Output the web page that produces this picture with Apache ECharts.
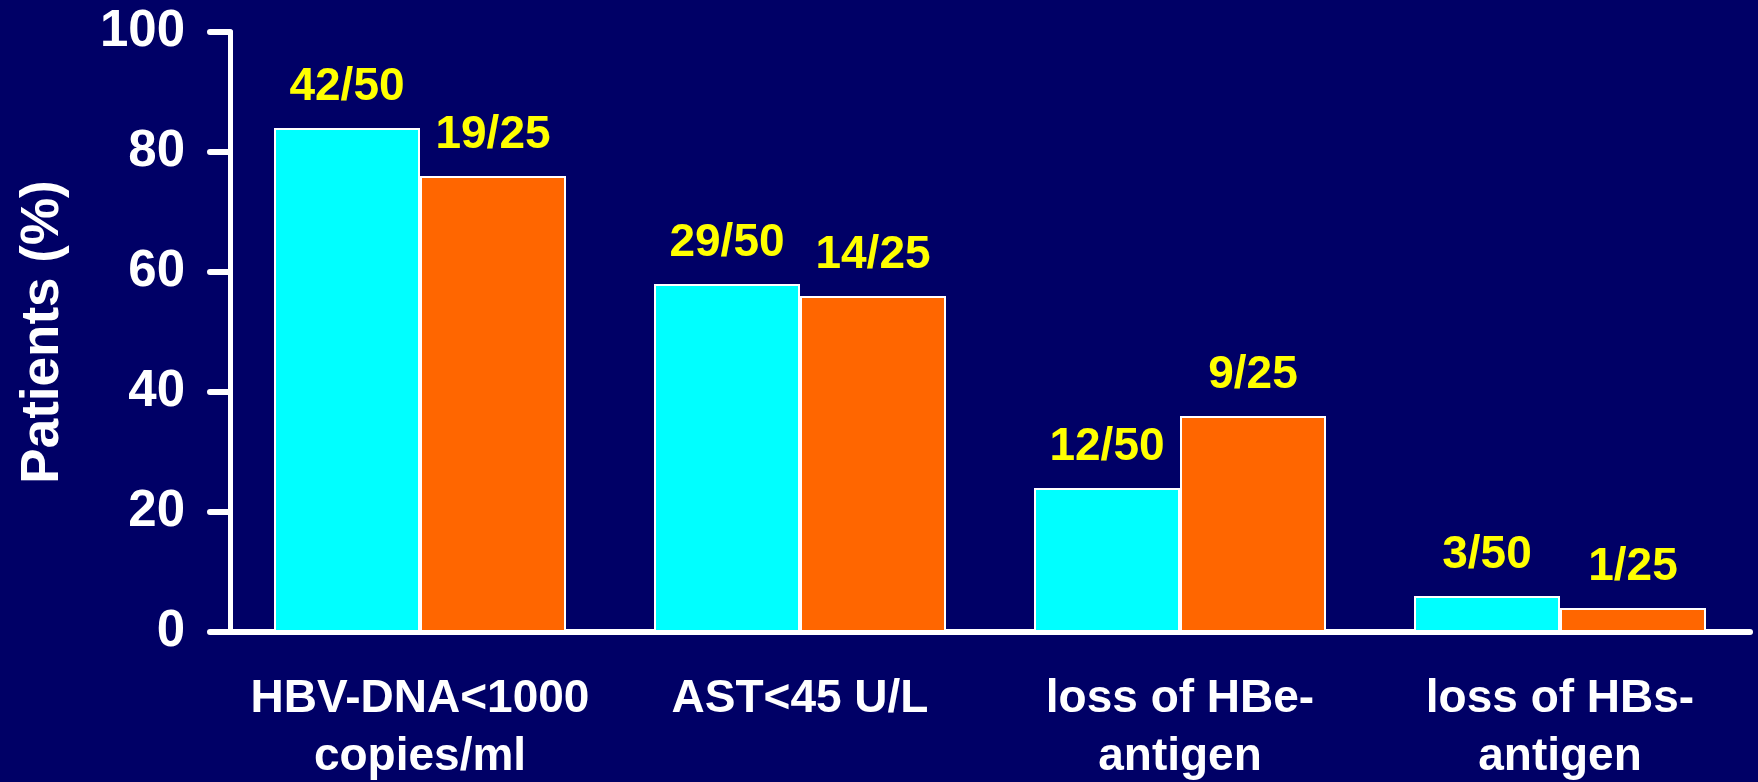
<!DOCTYPE html>
<html>
<head>
<meta charset="utf-8">
<script src="https://cdn.jsdelivr.net/npm/echarts@6/dist/echarts.min.js"></script>
<style>
  html, body { margin: 0; padding: 0; background: #000066; }
  #chart { width: 1758px; height: 782px; }
</style>
</head>
<body>
<div id="chart"></div>
<script>
// Outcome categories (two-line axis labels)
const categories = [
  'HBV-DNA<1000\ncopies/ml',
  'AST<45 U/L',
  'loss of HBe-\nantigen',
  'loss of HBs-\nantigen'
];

// Responders / patients per group
const groupANum = [42, 29, 12, 3];
const groupADen = [50, 50, 50, 50];
const groupBNum = [19, 14, 9, 1];
const groupBDen = [25, 25, 25, 25];

// Y axis ticks
const yTicks = [0, 20, 40, 60, 80, 100];

const pct = (n, d) => n.map((v, i) => +(v / d[i] * 100).toFixed(1));
const groupAPct = pct(groupANum, groupADen);
const groupBPct = pct(groupBNum, groupBDen);

const FONT = '"Liberation Sans", Arial, Helvetica, sans-serif';

function seriesFor(values, nums, dens, color) {
  return {
    type: 'bar',
    data: values,
    barWidth: 146,
    barGap: '0%',
    itemStyle: { color: color, borderColor: '#ffffff', borderWidth: 2 },
    label: {
      show: true,
      position: 'top',
      distance: 18,
      color: '#ffff00',
      fontFamily: FONT,
      fontWeight: 'bold',
      fontSize: 46,
      formatter: p => nums[p.dataIndex] + '/' + dens[p.dataIndex]
    },
    emphasis: { disabled: true }
  };
}

const chart = echarts.init(document.getElementById('chart'), null, { renderer: 'canvas' });
chart.setOption({
  backgroundColor: '#000066',
  animation: false,
  grid: { left: 230, right: 8, top: 32, bottom: 150, containLabel: false, outerBoundsMode: 'none' },
  xAxis: {
    type: 'category',
    data: categories,
    axisLine: { show: true, lineStyle: { color: '#ffffff', width: 6, cap: 'round' } },
    axisTick: { show: false },
    axisLabel: {
      interval: 0,
      margin: 38,
      color: '#ffffff',
      fontFamily: FONT,
      fontWeight: 'bold',
      fontSize: 46,
      lineHeight: 58
    }
  },
  yAxis: {
    type: 'value',
    min: yTicks[0],
    max: yTicks[yTicks.length - 1],
    interval: yTicks[1] - yTicks[0],
    name: 'Patients (%)',
    nameLocation: 'middle',
    nameGap: 160,
    nameTextStyle: { color: '#ffffff', fontFamily: FONT, fontWeight: 'bold', fontSize: 53 },
    axisLine: { show: true, lineStyle: { color: '#ffffff', width: 5 } },
    axisTick: { show: true, length: 20, lineStyle: { color: '#ffffff', width: 6, cap: 'round' } },
    axisLabel: {
      margin: 45,
      color: '#ffffff',
      fontFamily: FONT,
      fontWeight: 'bold',
      fontSize: 51
    },
    splitLine: { show: false }
  },
  series: [
    seriesFor(groupAPct, groupANum, groupADen, '#00ffff'),
    seriesFor(groupBPct, groupBNum, groupBDen, '#ff6600')
  ]
});
</script>
</body>
</html>
